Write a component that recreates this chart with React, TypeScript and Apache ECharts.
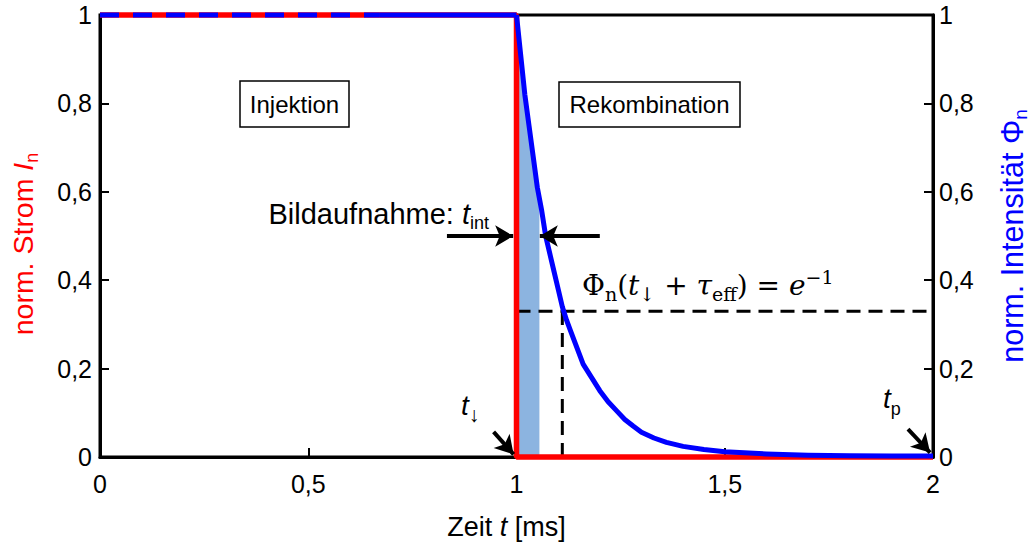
import React, { useEffect, useRef } from "react";
import * as echarts from "echarts";

// ---- data ----
const currentTime = [0, 1, 1, 2];
const currentValue = [1, 1, 0, 0];

const dashedTopTime = [0, 0.67];
const dashedTopValue = [1, 1];

const flatTime = [0.67, 1];
const flatValue = [1, 1];

const intensityTime = [1, 1.01, 1.02, 1.03, 1.04, 1.05, 1.06, 1.07, 1.08, 1.09, 1.1, 1.11, 1.12, 1.13, 1.14, 1.15, 1.16, 1.18, 1.2, 1.22, 1.24, 1.26, 1.28, 1.3, 1.33, 1.36, 1.4, 1.45, 1.5, 1.6, 1.7, 1.8, 1.9, 2];
const intensityValue = [1, 0.91, 0.82, 0.75, 0.68, 0.61, 0.56, 0.5, 0.46, 0.42, 0.38, 0.34, 0.31, 0.285, 0.26, 0.235, 0.21, 0.18, 0.15, 0.125, 0.105, 0.085, 0.07, 0.056, 0.043, 0.033, 0.024, 0.017, 0.012, 0.007, 0.004, 0.003, 0.002, 0.002];

const shadeTime = [1, 1.01, 1.02, 1.03, 1.04, 1.05, 1.055];
const shadeValue = [1, 0.91, 0.82, 0.75, 0.68, 0.61, 0.585];

const tauHTime = [1, 2];
const tauHValue = [0.33, 0.33];
const tauVTime = [1.11, 1.11];
const tauVValue = [0, 0.33];

const arrowStarts = [[0.833, 0.5], [1.2, 0.5], [0.945, 0.057], [1.94, 0.063]];
const arrowEnds = [[0.992, 0.5], [1.056, 0.5], [0.993, 0.006], [1.993, 0.01]];

const SANS = '"Liberation Sans", Arial, sans-serif';
const SERIF = '"DejaVu Serif", "Liberation Serif", serif';

const pairs = (xs: number[], ys: number[]) => xs.map((x, i) => [x, ys[i]]);
const fmt = (v: number) => String(Math.round(v * 10) / 10).replace(".", ",");

export default function App() {
  const ref = useRef<HTMLDivElement>(null);

  useEffect(() => {
    if (!ref.current) return;
    const chart = echarts.init(ref.current, undefined, { renderer: "svg" });

    const tick = { show: true, inside: true, length: 9, lineStyle: { color: "#000", width: 2 } };
    const line = { show: true, lineStyle: { color: "#000", width: 3 } };
    const label = { color: "#000", fontSize: 25, fontFamily: SANS, formatter: fmt };

    const option: any = {
      animation: false,
      grid: {
        left: 100, right: 101, top: 15, bottom: 86,
        outerBoundsMode: "none",
        containLabel: false,
        show: true, borderColor: "#000", borderWidth: 3, backgroundColor: "transparent",
      },
      xAxis: {
        type: "value", min: 0, max: 2, interval: 0.5,
        axisLine: line,
        axisTick: tick,
        splitLine: { show: false },
        axisLabel: { ...label, margin: 14 },
        name: "Zeit {i|t} [ms]",
        nameLocation: "middle",
        nameGap: 53,
        nameTextStyle: {
          color: "#000", fontSize: 27, fontFamily: SANS, lineHeight: 34, padding: [0, 20, 0, 0],
          rich: { i: { fontStyle: "italic", fontSize: 27, fontFamily: SANS, color: "#000", lineHeight: 34 } },
        },
      },
      yAxis: [
        {
          type: "value", min: 0, max: 1, interval: 0.2, position: "left",
          axisLine: line,
          axisTick: tick,
          splitLine: { show: false },
          axisLabel: { ...label, margin: 8 },
          name: "norm. Strom {i|I}{s|n}",
          nameLocation: "middle",
          nameRotate: 90,
          nameGap: 59,
          nameTextStyle: {
            color: "#ff0000", fontSize: 28.5, fontFamily: SANS, lineHeight: 36, padding: [0, 16, 0, 0],
            rich: {
              i: { fontStyle: "italic", fontSize: 28.5, fontFamily: SANS, color: "#ff0000", lineHeight: 36 },
              s: { fontSize: 18, fontFamily: SANS, color: "#ff0000", lineHeight: 18, verticalAlign: "bottom" },
            },
          },
        },
        {
          type: "value", min: 0, max: 1, interval: 0.2, position: "right",
          axisLine: line,
          axisTick: tick,
          splitLine: { show: false },
          axisLabel: { ...label, margin: 6 },
          name: "norm. Intensität Φ{s|n}",
          nameLocation: "middle",
          nameRotate: 90,
          nameGap: 61,
          nameTextStyle: {
            color: "#0000ff", fontSize: 30.5, fontFamily: SANS, lineHeight: 36,
            rich: {
              s: { fontSize: 19, fontFamily: SANS, color: "#0000ff", lineHeight: 19, verticalAlign: "bottom" },
            },
          },
        },
      ],
      series: [
        {
          type: "line", name: "shade", data: pairs(shadeTime, shadeValue), yAxisIndex: 1,
          symbol: "none", lineStyle: { width: 0 }, areaStyle: { color: "#8cb4e0", opacity: 1 },
          silent: true, z: 1,
        },
        {
          type: "line", name: "tauH", data: pairs(tauHTime, tauHValue), yAxisIndex: 1,
          symbol: "none", clip: false, silent: true, z: 2,
          lineStyle: { color: "#000", width: 3, type: [14, 8] },
        },
        {
          type: "line", name: "tauV", data: pairs(tauVTime, tauVValue), yAxisIndex: 1,
          symbol: "none", clip: false, silent: true, z: 2,
          lineStyle: { color: "#000", width: 3, type: [14, 8] },
        },
        {
          type: "line", name: "Strom", data: pairs(currentTime, currentValue), yAxisIndex: 0,
          symbol: "none", clip: false, silent: true, z: 3,
          lineStyle: { color: "#ff0000", width: 5.5 },
        },
        {
          type: "line", name: "IntensitaetDash", data: pairs(dashedTopTime, dashedTopValue), yAxisIndex: 1,
          symbol: "none", clip: false, silent: true, z: 4,
          lineStyle: { color: "#0000ff", width: 5, type: [19, 14] },
        },
        {
          type: "line", name: "IntensitaetFlat", data: pairs(flatTime, flatValue), yAxisIndex: 1,
          symbol: "none", clip: false, silent: true, z: 4,
          lineStyle: { color: "#0000ff", width: 5 },
        },
        {
          type: "line", name: "Intensitaet", data: pairs(intensityTime, intensityValue), yAxisIndex: 1,
          symbol: "none", clip: false, silent: true, z: 4,
          lineStyle: { color: "#0000ff", width: 5, join: "round" },
        },
        {
          type: "line", name: "arrows", data: [], yAxisIndex: 1, z: 5,
          markLine: {
            silent: true, animation: false,
            symbol: ["none", "arrow"], symbolSize: [16, 18],
            label: { show: false },
            lineStyle: { color: "#000", width: 4, type: "solid" },
            emphasis: { disabled: true },
            data: arrowStarts.map((s, i) => [{ coord: s }, { coord: arrowEnds[i] }]),
          },
        },
      ],
      graphic: [
        { type: "rect", shape: { x: 240, y: 81, width: 109, height: 46 }, style: { fill: "#fff", stroke: "#000", lineWidth: 1.5 }, z: 10 },
        { type: "text", x: 294.5, y: 104.5, z: 11, style: { text: "Injektion", fontSize: 24, fontFamily: SANS, fill: "#000", align: "center", verticalAlign: "middle" } },
        { type: "rect", shape: { x: 559, y: 82, width: 181, height: 45 }, style: { fill: "#fff", stroke: "#000", lineWidth: 1.5 }, z: 10 },
        { type: "text", x: 649.5, y: 104.5, z: 11, style: { text: "Rekombination", fontSize: 24, fontFamily: SANS, fill: "#000", align: "center", verticalAlign: "middle" } },
        {
          type: "text", x: 489, y: 214, z: 11,
          style: {
            text: "{m|Bildaufnahme: }{i|t}{s|int}", align: "right", verticalAlign: "middle", fill: "#000",
            rich: {
              m: { fontSize: 29, fontFamily: SANS, fill: "#000", lineHeight: 36 },
              i: { fontSize: 29, fontFamily: SANS, fontStyle: "italic", fill: "#000", lineHeight: 36 },
              s: { fontSize: 18, fontFamily: SANS, fill: "#000", lineHeight: 18, verticalAlign: "bottom" },
            },
          },
        },
        {
          type: "text", x: 461, y: 405, z: 11,
          style: {
            text: "{i|t}{s|↓}", align: "left", verticalAlign: "middle", fill: "#000",
            rich: {
              i: { fontSize: 28, fontFamily: SANS, fontStyle: "italic", fill: "#000", lineHeight: 40 },
              s: { fontSize: 21, fontFamily: SANS, fill: "#000", lineHeight: 21, verticalAlign: "bottom" },
            },
          },
        },
        {
          type: "text", x: 883, y: 398, z: 11,
          style: {
            text: "{i|t}{s|p}", align: "left", verticalAlign: "middle", fill: "#000",
            rich: {
              i: { fontSize: 28, fontFamily: SANS, fontStyle: "italic", fill: "#000", lineHeight: 40 },
              s: { fontSize: 18, fontFamily: SANS, fill: "#000", lineHeight: 18, verticalAlign: "bottom" },
            },
          },
        },
        {
          type: "text", x: 582, y: 285, z: 11,
          style: {
            text: "{m|Φ}{s|n}{m|(}{i|t}{s|↓}{m| + }{i|τ}{s|eff}{m|) = }{i|e}{p|−1}",
            align: "left", verticalAlign: "middle", fill: "#000",
            rich: {
              m: { fontSize: 28, fontFamily: SERIF, fill: "#000", lineHeight: 36 },
              i: { fontSize: 28, fontFamily: SERIF, fontStyle: "italic", fill: "#000", lineHeight: 36 },
              s: { fontSize: 19, fontFamily: SERIF, fill: "#000", lineHeight: 19, verticalAlign: "bottom" },
              p: { fontSize: 19, fontFamily: SERIF, fill: "#000", lineHeight: 19, verticalAlign: "top" },
            },
          },
        },
      ],
    };

    chart.setOption(option);
    return () => chart.dispose();
  }, []);

  return <div ref={ref} style={{ position: "absolute", left: 0, top: 0, width: 1034, height: 543, background: "#fff" }} />;
}
